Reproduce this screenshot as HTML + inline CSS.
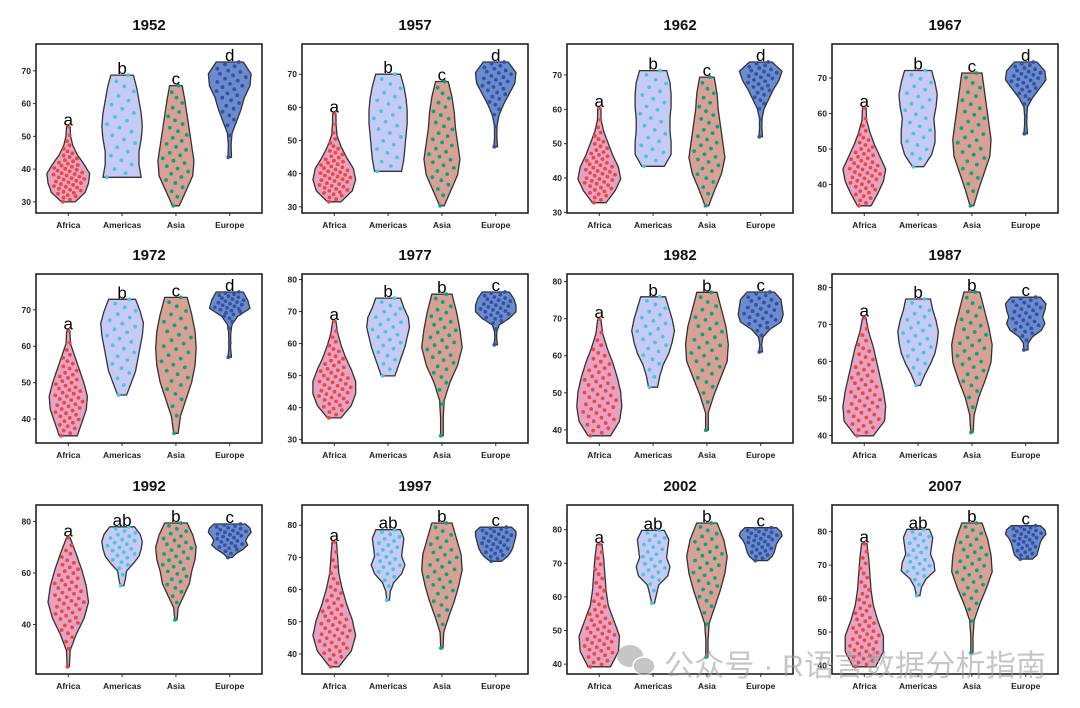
<!DOCTYPE html>
<html><head><meta charset="utf-8"><style>
html,body{margin:0;padding:0;background:#fff;}
svg{display:block;font-family:"Liberation Sans",Arial,sans-serif;}
</style></head><body>
<svg id="chart" width="1080" height="708" viewBox="0 0 1080 708"></svg>
<script>
const years=["1952","1957","1962","1967","1972","1977","1982","1987","1992","1997","2002","2007"];
const categories=["Africa","Americas","Asia","Europe"];
const mins=[[30,37.5,28.8,43.6],[31.5,40.7,30.3,48.1],[32.8,43.4,31.9,52],[34,45,34,54.3],[35.4,46.6,36.1,57],[36.8,49.9,31.2,59.6],[38.4,51.5,39.9,61],[39.9,53.5,40.8,63.1],[23.6,55.1,41.8,66],[36,56.7,41.8,68.8],[39.2,58.1,42.1,70.8],[39.6,60.9,43.8,71.8]];
const maxs=[[53,68.7,65.5,72.7],[58.2,70,67.8,73.7],[60.4,71.3,69.4,73.8],[61.6,72.1,71.4,74.5],[64.3,72.9,73.4,74.9],[67.1,74.2,75.4,76.1],[69.9,75.9,77.1,77.2],[71.9,76.9,78.8,77.4],[73.7,77.9,79.4,79],[74.8,78.6,80.7,79.4],[75.7,79.8,82,80.6],[76.4,80.7,82.6,81.8]];
const densities=[
[[0.3,0.75,0.9,0.95,0.7,0.4,0.2,0.1,0.08],[0.85,0.75,0.75,0.85,0.9,0.85,0.75,0.65,0.5],[0.15,0.45,0.75,0.8,0.7,0.6,0.5,0.4,0.28],[0.08,0.06,0.1,0.3,0.5,0.65,0.9,0.95,0.6]],
[[0.3,0.8,0.95,0.85,0.55,0.3,0.12,0.08,0.07],[0.6,0.7,0.75,0.8,0.85,0.85,0.8,0.7,0.55],[0.1,0.4,0.7,0.8,0.7,0.6,0.55,0.45,0.28],[0.08,0.05,0.06,0.15,0.35,0.6,0.85,0.9,0.55]],
[[0.3,0.7,0.95,0.85,0.6,0.4,0.2,0.08,0.07],[0.5,0.8,0.8,0.75,0.75,0.8,0.8,0.75,0.6],[0.08,0.35,0.65,0.8,0.7,0.6,0.5,0.45,0.32],[0.08,0.05,0.06,0.15,0.35,0.55,0.8,0.95,0.5]],
[[0.3,0.6,0.85,0.95,0.7,0.45,0.25,0.1,0.08],[0.25,0.6,0.75,0.75,0.7,0.8,0.85,0.75,0.6],[0.08,0.3,0.55,0.8,0.85,0.75,0.65,0.55,0.45],[0.08,0.05,0.05,0.08,0.3,0.6,0.9,0.85,0.5]],
[[0.4,0.6,0.8,0.85,0.7,0.5,0.3,0.1,0.07],[0.2,0.4,0.6,0.7,0.8,0.9,0.95,0.8,0.6],[0.1,0.2,0.45,0.7,0.85,0.9,0.85,0.7,0.5],[0.08,0.04,0.04,0.05,0.1,0.35,0.9,0.8,0.6]],
[[0.3,0.75,0.95,0.95,0.75,0.5,0.3,0.15,0.07],[0.3,0.45,0.6,0.75,0.85,0.95,0.9,0.7,0.55],[0.06,0.06,0.1,0.35,0.7,0.9,0.8,0.65,0.45],[0.08,0.04,0.05,0.15,0.6,0.9,0.9,0.8,0.6]],
[[0.5,0.9,1.0,0.95,0.8,0.6,0.35,0.15,0.07],[0.2,0.3,0.45,0.7,0.85,0.95,0.85,0.7,0.55],[0.06,0.06,0.3,0.6,0.9,0.95,0.85,0.65,0.45],[0.08,0.04,0.1,0.4,0.9,1.0,0.95,0.9,0.6]],
[[0.4,0.9,0.95,0.85,0.7,0.55,0.4,0.2,0.07],[0.1,0.3,0.55,0.75,0.85,0.9,0.8,0.65,0.55],[0.05,0.1,0.3,0.6,0.85,0.9,0.75,0.55,0.35],[0.1,0.1,0.3,0.7,0.85,0.75,0.85,0.9,0.65]],
[[0.05,0.08,0.35,0.7,0.9,0.8,0.6,0.35,0.08],[0.08,0.15,0.2,0.5,0.75,0.85,0.9,0.8,0.55],[0.05,0.1,0.35,0.6,0.7,0.85,0.9,0.75,0.5],[0.1,0.3,0.6,0.8,0.7,0.8,0.95,0.9,0.7]],
[[0.2,0.75,0.95,0.8,0.55,0.35,0.2,0.15,0.1],[0.06,0.1,0.25,0.6,0.75,0.6,0.65,0.7,0.55],[0.05,0.08,0.3,0.55,0.75,0.9,0.85,0.65,0.45],[0.25,0.5,0.65,0.75,0.8,0.85,0.9,0.9,0.7]],
[[0.5,0.85,0.9,0.65,0.4,0.3,0.25,0.2,0.12],[0.06,0.15,0.25,0.65,0.75,0.6,0.65,0.7,0.5],[0.05,0.05,0.1,0.35,0.6,0.8,0.9,0.75,0.45],[0.3,0.5,0.6,0.65,0.7,0.8,0.95,0.9,0.7]],
[[0.5,0.85,0.85,0.6,0.4,0.3,0.25,0.2,0.12],[0.08,0.15,0.35,0.75,0.7,0.55,0.6,0.65,0.5],[0.05,0.05,0.1,0.35,0.65,0.9,0.85,0.7,0.45],[0.3,0.5,0.55,0.6,0.65,0.75,0.9,0.85,0.65]]];
const letters=[["a","b","c","d"],["a","b","c","d"],["a","b","c","d"],["a","b","c","d"],["a","b","c","d"],["a","b","b","c"],["a","b","b","c"],["a","b","b","c"],["a","ab","b","c"],["a","ab","b","c"],["a","ab","b","c"],["a","ab","b","c"]];
const counts=[52,25,33,30];
const tickSteps=[10,10,10,10,10,10,10,10,20,10,10,10];
const fills=["#e7a1c4","#c6cbf5","#d7a193","#6a8bd0"];
const pointCols=["#ea4a3c","#4cc3df","#0e9f86","#34539f"];
const NS="http://www.w3.org/2000/svg";
const svg=document.getElementById('chart');
function mk(tag,attrs,parent){const e=document.createElementNS(NS,tag);for(const k in attrs)e.setAttribute(k,attrs[k]);(parent||svg).appendChild(e);return e;}
const colL=[36,302,567,832],rowT=[44,274,505],PW=226,PH=169,HW=22.5;
years.forEach((yr,p)=>{
  const L=colL[p%4],T=rowT[Math.floor(p/4)];
  const g=mk('g',{});
  
  
  const lo0=Math.min(...mins[p]),hi0=Math.max(...maxs[p]),r=hi0-lo0;
  const lo=lo0-0.05*r,hi=hi0+0.125*r;
  const ys=v=>T+PH-(v-lo)/(hi-lo)*PH;
  const xs=i=>L+(i+0.6)/4.2*PW;
  const tt=mk('text',{x:L+PW/2,y:T-14,'text-anchor':'middle','font-size':15,'font-weight':'bold',fill:'#111'},g);
  tt.textContent=yr;
  
  
  categories.forEach((c,i)=>{
    const mn=mins[p][i],mx=maxs[p][i],d=densities[p][i],n=d.length;
    const hw=v=>{const t=(v-mn)/(mx-mn)*(n-1);const k=Math.min(n-2,Math.max(0,Math.floor(t)));const f=t-k;return (d[k]*(1-f)+d[k+1]*f)*HW;};
    const cx=xs(i);let right=[],left=[];const S=40;
    for(let s=0;s<=S;s++){const v=mn+(mx-mn)*s/S;right.push((cx+hw(v)).toFixed(1)+','+ys(v).toFixed(1));left.unshift((cx-hw(v)).toFixed(1)+','+ys(v).toFixed(1));}
    const vi=mk('polygon',{points:right.concat(left).join(' '),fill:fills[i],stroke:'#333',"stroke-width":1.3,'stroke-linejoin':'round'},g);
    
    
    const M=200,cdf=[0];for(let s=1;s<=M;s++){const v=mn+(mx-mn)*(s-0.5)/M;cdf.push(cdf[s-1]+hw(v));}
    const tot=cdf[M];const cnt=counts[i];
    for(let j=0;j<cnt;j++){
      let q=cnt===1?0.5:j/(cnt-1),tg=q*tot,s=0;while(s<M&&cdf[s]<tg)s++;
      const v=mn+(mx-mn)*s/M;const jit=((j*0.6180339)%1)*2-1;
      const pt=mk('circle',{cx:(cx+jit*hw(v)*0.8).toFixed(1),cy:ys(v).toFixed(1),r:1.9,fill:pointCols[i]},g);
      
      
    }
    const lt=mk('text',{x:cx,y:ys(mx)-1,'text-anchor':'middle','font-size':17,fill:'#000'},g);
    lt.textContent=letters[p][i];
    
    
    const xl=mk('text',{x:cx,y:T+PH+15,'text-anchor':'middle','font-size':8.5,'font-weight':'bold',fill:'#222'},g);
    xl.textContent=c;
    
    
    mk('line',{x1:cx,x2:cx,y1:T+PH,y2:T+PH+3,stroke:'#333','stroke-width':1},g);
  });
  const st=tickSteps[p];
  for(let v=Math.ceil(lo/st)*st;v<=hi;v+=st){
    const y=ys(v);
    mk('line',{x1:L-3,x2:L,y1:y,y2:y,stroke:'#333','stroke-width':1},g);
    const yl=mk('text',{x:L-5,y:y+3,'text-anchor':'end','font-size':8.5,'font-weight':'bold',fill:'#222'},g);
    yl.textContent=v;
    
    
  }
  const b=mk('rect',{x:L,y:T,width:PW,height:PH,fill:'none',stroke:'#222','stroke-width':1.6},g);
  
  
});
const wm=mk('g',{opacity:0.55});


mk('ellipse',{cx:630,cy:656,rx:13,ry:11,fill:'#999'},wm);
mk('ellipse',{cx:644,cy:666,rx:11,ry:9,fill:'#999',stroke:'#fff','stroke-width':1.5},wm);
const wt=mk('text',{x:664,y:676,'font-size':30,fill:'#999','textLength':382,'font-family':'"Liberation Sans","Noto Sans CJK SC",sans-serif'},wm);
wt.textContent="公众号 · R语言数据分析指南";
</script>
</body></html>
